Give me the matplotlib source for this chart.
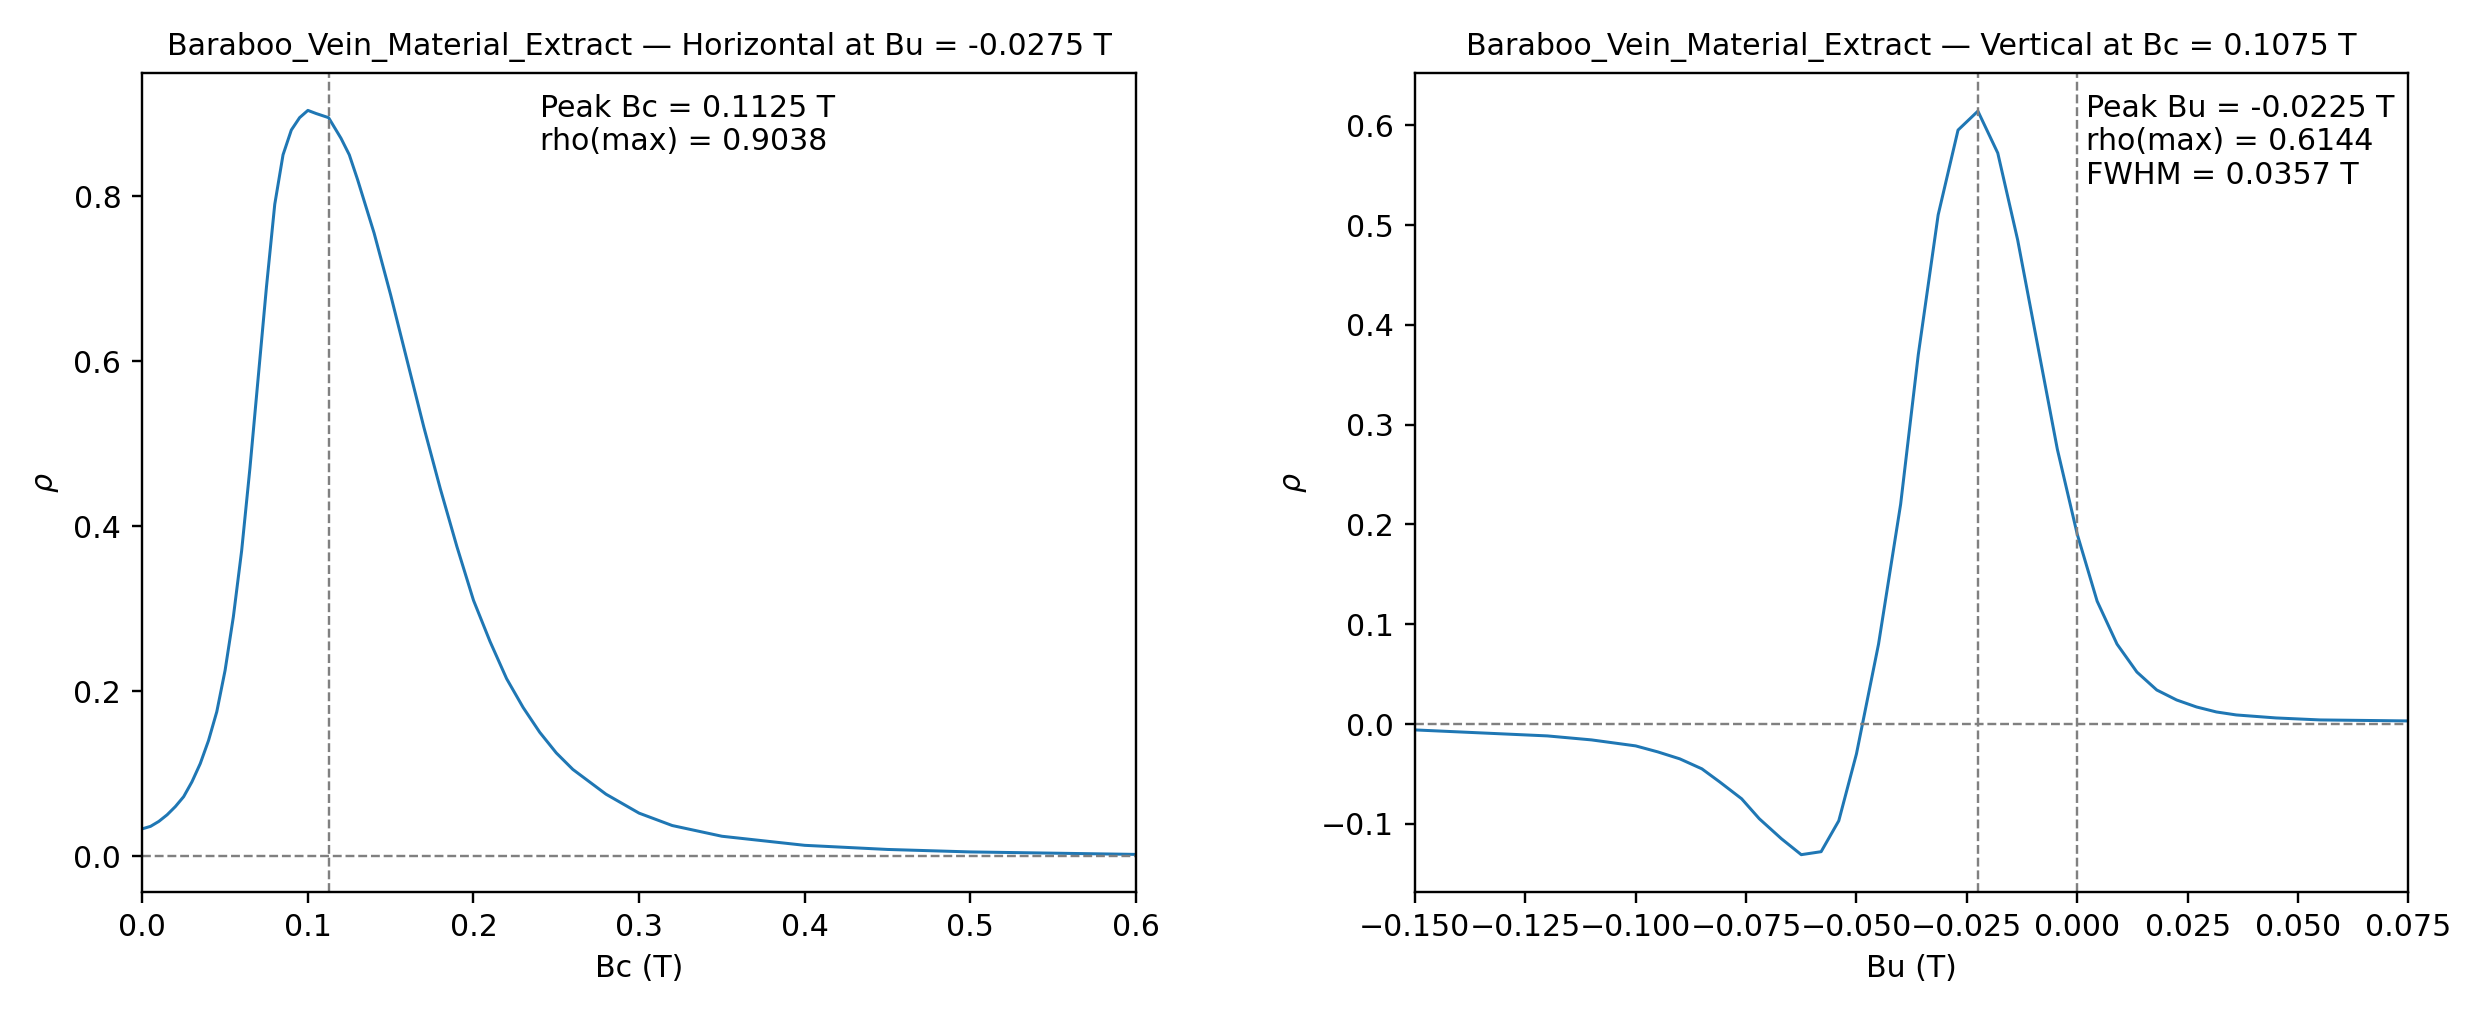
import matplotlib
matplotlib.use('Agg')
import matplotlib.pyplot as plt
import numpy as np

# horizontal cut at Bu = -0.0275 T
bc = [0, 0.005, 0.01, 0.015, 0.02, 0.025, 0.03, 0.035, 0.04, 0.045, 0.05, 0.055, 0.06,
      0.065, 0.07, 0.075, 0.08, 0.085, 0.09, 0.095, 0.1, 0.105, 0.1125,
      0.12, 0.125, 0.13, 0.14, 0.15, 0.16, 0.17, 0.18, 0.19, 0.2, 0.21, 0.22, 0.23,
      0.24, 0.25, 0.26, 0.28, 0.3, 0.32, 0.35, 0.4, 0.45, 0.5, 0.6]
rho_h = [0.033, 0.036, 0.042, 0.05, 0.06, 0.072, 0.09, 0.112, 0.14, 0.175, 0.225, 0.29, 0.37,
         0.47, 0.58, 0.69, 0.79, 0.85, 0.88, 0.895, 0.9038, 0.90, 0.895,
         0.87, 0.85, 0.82, 0.755, 0.68, 0.6, 0.52, 0.445, 0.375, 0.31, 0.26, 0.215, 0.18,
         0.15, 0.125, 0.105, 0.075, 0.052, 0.037, 0.024, 0.013, 0.008, 0.005, 0.002]

# vertical cut at Bc = 0.1075 T
bu = [-0.15, -0.13, -0.12, -0.11, -0.1, -0.095, -0.09, -0.085, -0.081, -0.076, -0.072,
      -0.067, -0.0625, -0.058, -0.054, -0.05, -0.045, -0.04, -0.036, -0.0315, -0.027,
      -0.0225, -0.018, -0.0135, -0.009, -0.0045, 0.0, 0.0045, 0.009, 0.0135, 0.018,
      0.0225, 0.027, 0.0315, 0.036, 0.045, 0.055, 0.075]
rho_v = [-0.006, -0.01, -0.012, -0.016, -0.022, -0.028, -0.035, -0.045, -0.058, -0.075, -0.095,
         -0.115, -0.131, -0.128, -0.097, -0.03, 0.08, 0.22, 0.37, 0.51, 0.595,
         0.614, 0.572, 0.485, 0.38, 0.275, 0.19, 0.123, 0.08, 0.052, 0.034,
         0.024, 0.017, 0.012, 0.009, 0.006, 0.004, 0.003]

fig, (ax1, ax2) = plt.subplots(1, 2, figsize=(11.5, 4.7), dpi=216)

ax1.plot(bc, rho_h, color='#1f77b4', lw=1)
ax1.axhline(0, color='gray', ls='--', lw=0.8)
ax1.axvline(0.1125, color='gray', ls='--', lw=0.8)
ax1.set_xlim(0, 0.6)
ax1.set_xlabel('Bc (T)')
ax1.set_ylabel(r'$\rho$')
ax1.set_title('Baraboo_Vein_Material_Extract — Horizontal at Bu = -0.0275 T', fontsize=10)
ax1.text(0.24, 0.975, 'Peak Bc = 0.1125 T\nrho(max) = 0.9038',
         transform=ax1.get_xaxis_transform(), va='top')

ax2.plot(bu, rho_v, color='#1f77b4', lw=1)
ax2.axhline(0, color='gray', ls='--', lw=0.8)
ax2.axvline(-0.0225, color='gray', ls='--', lw=0.8)
ax2.axvline(0.0, color='gray', ls='--', lw=0.8)
ax2.set_xlim(-0.15, 0.075)
ax2.set_ylim(-0.168, 0.652)
ax2.set_xlabel('Bu (T)')
ax2.set_ylabel(r'$\rho$')
ax2.set_title('Baraboo_Vein_Material_Extract — Vertical at Bc = 0.1075 T', fontsize=10)
ax2.text(0.002, 0.975, 'Peak Bu = -0.0225 T\nrho(max) = 0.6144\nFWHM = 0.0357 T',
         transform=ax2.get_xaxis_transform(), va='top')

plt.tight_layout(w_pad=4)
plt.savefig('out.png', dpi=216)
